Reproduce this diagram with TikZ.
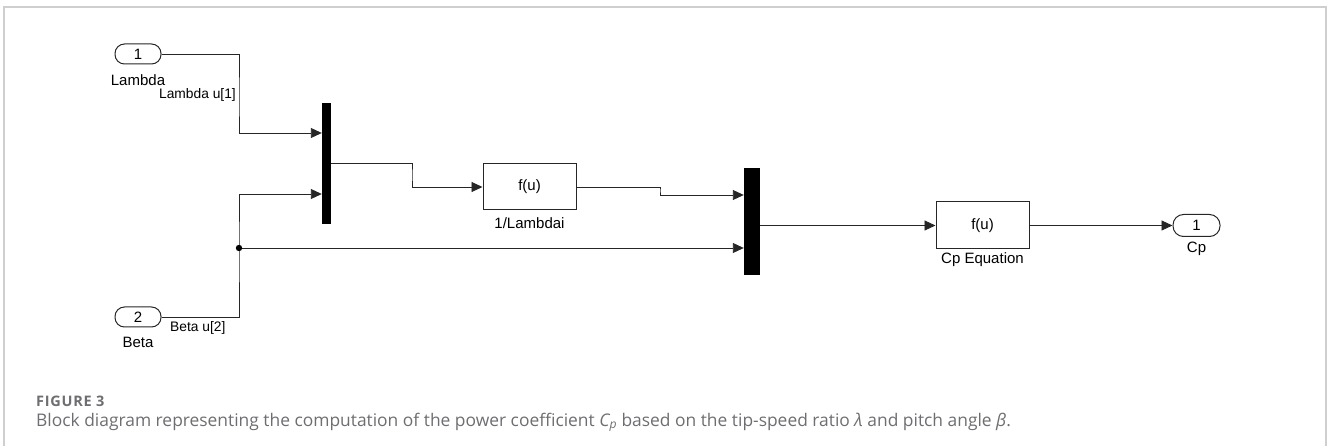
\documentclass[tikz,border=0pt]{standalone}
\usepackage{fontspec}
\setmainfont{Liberation Sans}
\newfontfamily\capfont{Open Sans}
\newfontfamily\figfont[LetterSpace=5]{Open Sans}
\usetikzlibrary{arrows.meta,calc}
\definecolor{framegray}{HTML}{CFCFCF}
\definecolor{capgray}{HTML}{6D6E71}
\tikzset{
  sig/.style={draw=black!85, line width=0.9pt},
  sigarrow/.style={sig, -{Triangle[length=11pt,width=10pt]}},
  port/.style={draw=black!85, line width=1pt, rounded corners=9.5pt, minimum width=46pt, minimum height=20pt, inner sep=0pt, font=\fontsize{15}{16}\selectfont},
  fblock/.style={draw=black!85, line width=1pt, minimum width=93pt, minimum height=46pt, inner sep=0pt, font=\fontsize{15}{16}\selectfont},
  muxbar/.style={fill=black, draw=none, inner sep=0pt},
  lbl/.style={inner sep=0pt, font=\fontsize{15}{16}\selectfont},
  slbl/.style={inner sep=0pt, font=\fontsize{13.8}{16}\selectfont},
}
\begin{document}
\begin{tikzpicture}[x=1pt,y=-1pt]
\useasboundingbox (0,0) rectangle (1328,446);
% frame
\draw[framegray, line width=2pt] (4,446) -- (4,7.5) -- (1326,7.5) -- (1326,446);

% blocks
\node[port] (in1) at (138,54) {1};
\node[port] (in2) at (138,317) {2};
\node[muxbar, minimum width=9pt, minimum height=121pt] (mux1) at (326.5,163.5) {};
\node[fblock] (f1) at (529.5,187) {f(u)};
\node[muxbar, minimum width=16pt, minimum height=107pt] (mux2) at (752,221.5) {};
\node[fblock, minimum height=47pt] (f2) at (982.5,225.5) {f(u)};
\node[port, minimum width=47pt, minimum height=22pt, rounded corners=10.5pt] (out1) at (1196.5,225.5) {1};

% labels
\node[lbl] (lLambda) at (138,80) {Lambda};
\node[slbl, anchor=east] (lLu) at (236,95) {Lambda u[1]};
\node[lbl] (lBeta) at (138,342) {Beta};
\node[slbl, anchor=west] (lBu) at (170,328) {Beta u[2]};
\node[lbl] (lf1) at (529.5,223) {1/Lambdai};
\node[lbl] (lf2) at (982.5,260) {Cp Equation};
\node[lbl] (lcp) at (1196.5,249) {Cp};

% coordinates
\coordinate (m1a) at ($(mux1.west)+(0,-30.5)$);
\coordinate (m1b) at ($(mux1.west)+(0,30.5)$);
\coordinate (m2a) at ($(mux2.west)+(0,-26.5)$);
\coordinate (m2b) at ($(mux2.west)+(0,26.5)$);
\coordinate (j) at (239,248);

% connectors
\draw[sigarrow] (in1.east) -| (239,100) |- (m1a);
\draw[sigarrow] (in2.east) -| (j) |- (m1b);
\draw[sigarrow] (j) -- (m2b);
\fill[black] (j) circle (3.2pt);
\draw[sigarrow] (mux1.east) -| (412,175) |- (f1.west);
\draw[sigarrow] (f1.east) -| (660,190) |- (m2a);
\draw[sigarrow] (mux2.east |- f2.west) -- (f2.west);
\draw[sigarrow] (f2.east) -- (out1.west);

% caption
\node[anchor=base west, inner sep=0pt, text=capgray, font=\figfont\fontsize{14.5}{16}\selectfont\bfseries] (figlbl) at (36,406) {FIGURE 3};
\node[anchor=base west, inner sep=0pt, text=capgray, font=\capfont\fontsize{17.4}{19}\selectfont] (cap) at (36,426) {Block diagram representing the computation of the power coefficient {\itshape C}\textsubscript{\itshape p} based on the tip-speed ratio {\itshape λ} and pitch angle {\itshape β}.};
\end{tikzpicture}
\end{document}
